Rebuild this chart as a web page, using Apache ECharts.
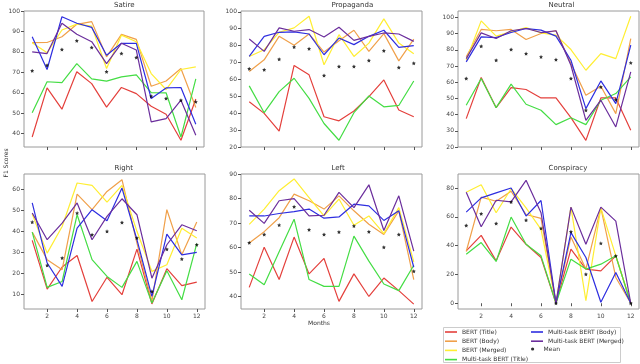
<!DOCTYPE html>
<html><head><meta charset="utf-8">
<script src="https://cdn.jsdelivr.net/npm/echarts@6/dist/echarts.min.js"></script>
<style>html,body{margin:0;padding:0;background:#fff}#c{width:640px;height:364px}</style>
</head><body><div id="c"></div>
<script>
const months = [1,2,3,4,5,6,7,8,9,10,11,12];
const xTicks = [2,4,6,8,10,12];
const seriesNames = ['BERT (Title)','BERT (Body)','BERT (Merged)','Multi-task BERT (Title)','Multi-task BERT (Body)','Multi-task BERT (Merged)'];
const titles = ['Satire','Propaganda','Neutral','Right','Left','Conspiracy'];

// Satire
const satireBertTitle = [38.4,62.4,52,70.3,64.5,53,62.6,59.6,53.4,49.5,36.8,57];
const satireBertBody = [84.5,84.6,87.4,93.5,94.8,77.6,88.6,86.1,63.2,65.8,71.9,52.8];
const satireBertMerged = [84.5,79.6,90.7,93.6,92.6,71.9,88.2,85,69.4,61.6,71.4,72.7];
const satireMtTitle = [50.2,65.4,65,74.3,66.8,65.7,67.8,68.8,60.1,60,38.4,66.8];
const satireMtBody = [87.4,71.4,97.2,94,92,78.4,84.2,84.2,57.2,62.4,62.6,44.6];
const satireMtMerged = [80,79.2,94,88.6,85,74.3,84.2,80.9,45.8,47.4,56.4,39.2];
const satireMean = [70.8,73.5,81.2,85.5,82.2,70.3,79.2,77.3,58.3,57.2,56.4,55.6];

// Propaganda
const propBertTitle = [46.8,39.9,29.4,68.3,62.7,37.9,35.5,41.3,49.8,59.7,41.9,37.9];
const propBertBody = [64.7,71.6,85.5,80.2,86.9,76.2,82.9,89.1,76.6,87.1,71,83.9];
const propBertMerged = [73.6,77.6,87.9,90.5,97.4,68.7,86.5,73.6,81.5,95.8,81.5,75.2];
const propMtTitle = [56.2,40.3,52.8,60.7,48.8,33.9,24,40.3,50.2,43.8,44.6,59.1];
const propMtBody = [73.6,85.5,87.9,88.1,86.9,74.6,84.5,80.6,85.5,89.1,79,80];
const propMtMerged = [83.9,76.6,90.5,88.5,89.5,85.1,90.9,83.1,85.5,87.5,86.9,82.5];
const propMean = [66.3,65.7,72,79.2,78.2,62.3,67.7,67.7,71.2,77,67.1,69.6];

// Neutral
const neuBertTitle = [37.5,62.9,44.3,56.7,55.5,50.3,50.3,38.1,24.1,50.3,50.3,30.3];
const neuBertBody = [75.7,92.6,91.8,92.6,86.4,90.1,91.8,71.5,52,57.5,40.6,87];
const neuBertMerged = [73.6,97.9,88.5,91.1,93.8,90.5,89.1,80.2,67.4,77.7,74.6,100.8];
const neuMtTitle = [45.8,62.3,44.3,58.8,46.4,42.7,33.8,38.1,33.8,48.9,53,63.3];
const neuMtBody = [72.6,88,87.6,90.7,93.2,92.2,88.5,73.6,43.7,60.8,46.8,82.9];
const neuMtMerged = [74.6,90.5,87,91.8,93.2,90.7,91.8,70.5,36.5,48.9,32.4,66.4];
const neuMean = [62.3,82.3,73.6,80.2,77.7,75.7,74,62.3,42.7,57.1,49.3,72];

// Right
const rightBertTitle = [35.9,12.7,23.2,28.7,6.8,18.3,10,31.7,5.6,22.4,14.3,16];
const rightBertBody = [39.8,26.7,21.9,57.9,50.5,59.2,64.8,34.6,6.8,50.5,29,44.6];
const rightBertMerged = [48.4,29.8,42.5,63.2,62.1,54.1,62.1,40.2,21.1,24.3,41.7,37];
const rightMtTitle = [39.8,13.5,16.3,48.1,26.7,18.7,13.5,25.9,6,21.4,7.6,34.3];
const rightMtBody = [53.7,25.1,14,41.7,50.5,45.2,60.8,36.2,9.2,38.9,29,30.2];
const rightMtMerged = [48.9,36.2,44.1,53.7,36.2,47.3,55.7,48.1,17.9,33.8,43.3,40.5];
const rightMean = [44.6,24,27.5,48.9,38.6,40.2,44.4,37,11.6,31.7,27,33.8];

// Left
const leftBertTitle = [43.8,60.2,47,64.3,49.3,55.6,38.1,49.3,40.1,47.6,42.5,37];
const leftBertBody = [61.9,66.5,72.2,81.8,79.1,75.7,81.1,75,69.5,65.4,75,47];
const leftBertMerged = [69.5,75.7,83.2,88,80.4,72.9,79.8,69.1,72.9,65.7,76.3,54.2];
const leftMtTitle = [49.3,44.9,58.3,71.6,47,44.2,44.2,64.7,54.5,45.2,42.5,52.8];
const leftMtBody = [72.9,72.9,73.9,74.7,75.7,72,72.5,77.7,77,71.1,75,52];
const leftMtMerged = [75.2,69.9,79.1,80,72.9,73.2,82.5,76.3,85.6,67,81.1,58.6];
const leftMean = [62,65.4,69.2,76.7,67.3,65.4,66.4,68.8,66.5,60.2,65.4,50.4];

// Conspiracy
const conBertTitle = [36.3,47.1,29.4,52.9,40.9,31.7,0,37.5,23.7,22.5,32.9,0];
const conBertBody = [35.9,73.6,70.8,77.7,61.6,58.9,0,46,23.7,66.2,17.9,0];
const conBertMerged = [77,82.3,62.8,79.5,66.2,51.3,0,66.7,1.8,66.2,32.9,0];
const conMtTitle = [34,42.1,29,59.8,40.9,32.9,0,30.6,23.7,27.1,32.9,0];
const conMtBody = [63.2,73.1,76.6,80,60.5,71.3,0,49,31.7,0.7,21.4,0];
const conMtMerged = [77,53.1,71.5,70.3,85.3,62.8,0,66.7,40.9,66.7,57,0];
const conMean = [54,62.1,55.4,70.3,57.7,52,0,49.7,20.2,41.6,32.9,0];

const panels = [
  [satireBertTitle,satireBertBody,satireBertMerged,satireMtTitle,satireMtBody,satireMtMerged,satireMean],
  [propBertTitle,propBertBody,propBertMerged,propMtTitle,propMtBody,propMtMerged,propMean],
  [neuBertTitle,neuBertBody,neuBertMerged,neuMtTitle,neuMtBody,neuMtMerged,neuMean],
  [rightBertTitle,rightBertBody,rightBertMerged,rightMtTitle,rightMtBody,rightMtMerged,rightMean],
  [leftBertTitle,leftBertBody,leftBertMerged,leftMtTitle,leftMtBody,leftMtMerged,leftMean],
  [conBertTitle,conBertBody,conBertMerged,conMtTitle,conMtBody,conMtMerged,conMean]
];
const yRanges = [[33.5,100],[20,100.5],[20,104],[3.2,67.5],[35,90],[-4,89.7]];
const yTicks = [
  [40,50,60,70,80,90,100],
  [20,30,40,50,60,70,80,90,100],
  [20,30,40,50,60,70,80,90,100],
  [10,20,30,40,50,60],
  [40,50,60,70,80,90],
  [0,20,40,60,80]
];

const colors = ['#e4403c','#f0a04a','#ffee33','#44dd44','#2e2ee0','#6b2e9c'];
const gridBoxes = [
  [24,11,180,136],[241,11,181,136],[458,11,181,136],
  [24,174,181,135],[241,174,181,135],[458,174,181,135]
];

const star = 'path://M0,-10 L2.9,-4 L9.5,-3.1 L4.7,1.5 L5.9,8.1 L0,5 L-5.9,8.1 L-4.7,1.5 L-9.5,-3.1 L-2.9,-4 Z';
const grid = [], xAxis = [], yAxis = [], series = [], graphic = [];
gridBoxes.forEach((g,i)=>{
  grid.push({left:g[0],top:g[1],width:g[2],height:g[3],show:true,borderColor:'#9a9a9a',borderWidth:1,backgroundColor:'transparent'});
  xAxis.push({type:'value',gridIndex:i,min:0.45,max:12.55,
    axisLine:{show:false},splitLine:{show:false},
    axisTick:{show:true,length:3,lineStyle:{color:'#555'},customValues:xTicks},
    axisLabel:{show:i>=3,fontSize:6,color:'#444',margin:4,customValues:xTicks,fontFamily:'DejaVu Sans'}});
  yAxis.push({type:'value',gridIndex:i,min:yRanges[i][0],max:yRanges[i][1],
    axisLine:{show:false},splitLine:{show:false},
    axisTick:{show:true,length:3,lineStyle:{color:'#555'},customValues:yTicks[i]},
    axisLabel:{fontSize:6,color:'#444',margin:4,customValues:yTicks[i],fontFamily:'DejaVu Sans'}});
  panels[i].forEach((arr,k)=>{
    const data = months.map((m,j)=>[m,arr[j]]);
    if(k<6){
      series.push({type:'line',name:seriesNames[k],xAxisIndex:i,yAxisIndex:i,data:data,
        symbol:'none',showSymbol:false,lineStyle:{width:1.2,color:colors[k]},itemStyle:{color:colors[k]},
        animation:false,z:2+k});
    } else {
      series.push({type:'scatter',name:'Mean',xAxisIndex:i,yAxisIndex:i,data:data,
        symbol:star,symbolSize:4,itemStyle:{color:'#000'},animation:false,z:10});
    }
  });
  graphic.push({type:'text',left:g[0]+g[2]/2,top:g[1]-9,style:{text:titles[i],font:'7px "DejaVu Sans"',fill:'#333',textAlign:'center'}});
});
graphic.push({type:'text',x:6,y:163,rotation:Math.PI/2,style:{text:'F1 Scores',font:'6px "DejaVu Sans"',fill:'#333',textAlign:'center',textVerticalAlign:'middle'}});
graphic.push({type:'text',x:319,y:323,style:{text:'Months',font:'6px "DejaVu Sans"',fill:'#333',textAlign:'center',textVerticalAlign:'middle'}});
graphic.push({type:'rect',shape:{x:443.5,y:327.5,width:177,height:35},style:{fill:'#fff',stroke:'#ccc',lineWidth:1},z:0});

const legText = {fontSize:6,color:'#333',fontFamily:'DejaVu Sans'};
const option = {
  animation:false,
  grid, xAxis, yAxis, series, graphic,
  legend:[
    {data:seriesNames.slice(0,4).map(n=>({name:n,icon:'rect'})),orient:'vertical',left:445,top:329,itemWidth:12,itemHeight:1.6,itemGap:3.2,
      textStyle:legText,padding:0,z:5},
    {data:seriesNames.slice(4,6).map(n=>({name:n,icon:'rect'})),orient:'vertical',left:531,top:329,itemWidth:12,itemHeight:1.6,itemGap:3.2,
      textStyle:legText,padding:0,z:5},
    {data:[{name:'Mean',icon:'circle'}],orient:'vertical',left:531,top:346,itemWidth:12,itemHeight:3.2,itemGap:3.2,
      textStyle:legText,padding:0,z:5}
  ]
};
const chart = echarts.init(document.getElementById('c'),null,{renderer:'canvas'});
chart.setOption(option);
</script></body></html>
